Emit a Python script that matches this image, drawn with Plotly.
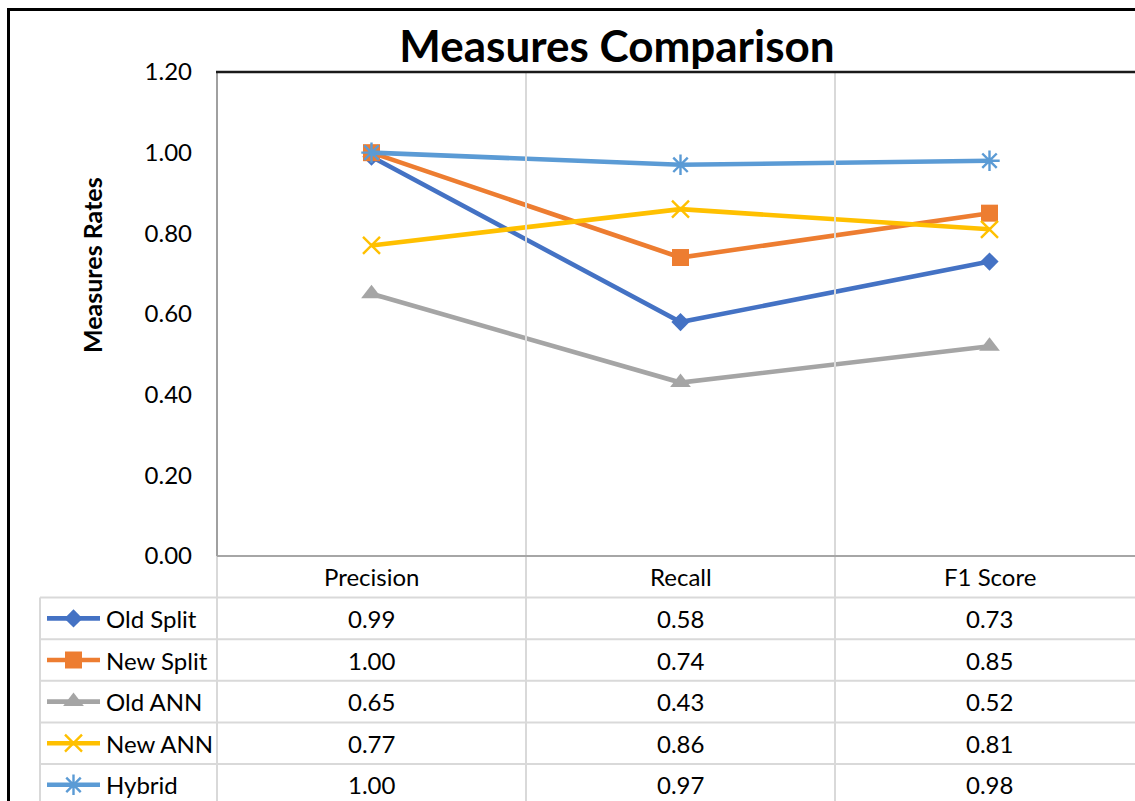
import plotly.graph_objects as go

W, H = 1135, 801

categories = ["Precision", "Recall", "F1 Score"]
series_names = ["Old Split", "New Split", "Old ANN", "New ANN", "Hybrid"]
old_split = [0.99, 0.58, 0.73]
new_split = [1.00, 0.74, 0.85]
old_ann = [0.65, 0.43, 0.52]
new_ann = [0.77, 0.86, 0.81]
hybrid = [1.00, 0.97, 0.98]
y_ticks = [0.0, 0.2, 0.4, 0.6, 0.8, 1.0, 1.2]

series_values = [old_split, new_split, old_ann, new_ann, hybrid]
colors = ["#4472C4", "#ED7D31", "#A5A5A5", "#FFC000", "#5B9BD5"]
markers = [
    dict(symbol="diamond", size=14),
    dict(symbol="square", size=17),
    dict(symbol="triangle-up", size=18),
    dict(symbol="x-thin", size=17),
    dict(symbol="asterisk", size=17),
]

FONT = "Lato"
FS = 24
LW = 4.6

def px(x):
    return x / W

def py(y):
    return 1 - y / H

# layout geometry (reference pixels)
PL, PT, PB = 217, 72, 556
CAT_W = 309
ROW_H = 41.6
TBL_L = 40

fig = go.Figure()

for i, (name, vals, col, mk) in enumerate(zip(series_names, series_values, colors, markers)):
    m = dict(mk, color=col)
    if mk["symbol"] in ("x-thin", "asterisk"):
        m["line"] = dict(color=col, width=2.4)
    fig.add_trace(go.Scatter(
        x=list(range(len(categories))), y=vals, mode="lines+markers",
        name=name, line=dict(color=col, width=LW), marker=m,
        showlegend=False, xaxis="x", yaxis="y", cliponaxis=False,
    ))
    # legend key inside the data table
    fig.add_trace(go.Scatter(
        x=[7, 33.5, 60], y=[i, i, i], mode="lines",
        line=dict(color=col, width=LW), showlegend=False,
        xaxis="x2", yaxis="y2", hoverinfo="skip",
    ))
    fig.add_trace(go.Scatter(
        x=[33.5], y=[i], mode="markers", marker=m, showlegend=False,
        xaxis="x2", yaxis="y2", hoverinfo="skip", cliponaxis=False,
    ))

x_range_right = -0.5 + (W - PL) / CAT_W
tbl_bottom_rows = -1.5 + (H - PB) / ROW_H

fig.update_layout(
    width=W, height=H,
    margin=dict(l=0, r=0, t=0, b=0, pad=0, autoexpand=False),
    paper_bgcolor="white", plot_bgcolor="white",
    font=dict(family=FONT, color="#000000"),
    title=dict(text="<b>Measures Comparison</b>", x=px(617), y=py(47),
               xanchor="center", yanchor="middle", xref="paper", yref="paper",
               automargin=False,
               font=dict(family=FONT, size=44, color="#000000")),
    xaxis=dict(domain=[px(PL), 1], range=[-0.5, x_range_right],
               showgrid=False, zeroline=False, showticklabels=False,
               ticks="", showline=False, fixedrange=True, automargin=False),
    yaxis=dict(domain=[py(PB), py(PT)], range=[0, 1.2], tickvals=y_ticks,
               tickformat=".2f", showgrid=False, zeroline=False, ticks="",
               showline=False, ticklabelstandoff=24, automargin=False,
               tickfont=dict(family=FONT, size=FS, color="#000000")),
    xaxis2=dict(domain=[px(TBL_L), px(PL)], range=[0, PL - TBL_L],
                visible=False, fixedrange=True, automargin=False),
    yaxis2=dict(domain=[0, py(PB)], range=[tbl_bottom_rows, -1.5],
                visible=False, fixedrange=True, automargin=False),
)

shapes = []
light = "#D9D9D9"
# category separators (through plot and table)
for b in [0.5, 1.5]:
    shapes.append(dict(type="line", xref="x", yref="paper", x0=b, x1=b,
                       y0=0, y1=py(PT), line=dict(color=light, width=2)))
# table vertical lines
shapes.append(dict(type="line", xref="paper", yref="paper", x0=px(PL), x1=px(PL),
                   y0=0, y1=py(PB), line=dict(color=light, width=2)))
shapes.append(dict(type="line", xref="paper", yref="paper", x0=px(TBL_L), x1=px(TBL_L),
                   y0=0, y1=py(PB + ROW_H), line=dict(color=light, width=2)))
# table horizontal lines
for r in range(5):
    yy = PB + ROW_H * (r + 1)
    shapes.append(dict(type="line", xref="paper", yref="paper", x0=px(TBL_L), x1=1,
                       y0=py(yy), y1=py(yy), line=dict(color=light, width=2)))
# plot area border
shapes.append(dict(type="line", xref="paper", yref="paper", x0=px(PL), x1=1,
                   y0=py(PB), y1=py(PB), line=dict(color="#A6A6A6", width=2)))
shapes.append(dict(type="line", xref="paper", yref="paper", x0=px(PL), x1=px(PL),
                   y0=py(PB), y1=py(PT), line=dict(color="#A0A0A0", width=2)))
shapes.append(dict(type="line", xref="paper", yref="paper", x0=px(PL - 1), x1=1,
                   y0=py(PT), y1=py(PT), line=dict(color="#1A1A1A", width=2.5)))
# outer chart border
shapes.append(dict(type="line", xref="paper", yref="paper", x0=px(7), x1=1,
                   y0=py(9.5), y1=py(9.5), line=dict(color="#000000", width=3)))
shapes.append(dict(type="line", xref="paper", yref="paper", x0=px(8.5), x1=px(8.5),
                   y0=0, y1=py(8), line=dict(color="#000000", width=3)))
fig.update_layout(shapes=shapes)

ann = []
# y axis title
ann.append(dict(text="<b>Measures Rates</b>", xref="paper", yref="paper",
                x=px(92), y=py(265), textangle=-90, showarrow=False,
                xanchor="center", yanchor="middle",
                font=dict(family=FONT, size=25, color="#000000")))
# category header row
for ci, c in enumerate(categories):
    ann.append(dict(text=c, xref="x", yref="y2", x=ci, y=-1, showarrow=False,
                    xanchor="center", yanchor="middle",
                    font=dict(family=FONT, size=FS, color="#000000")))
# table values and series names
for ri, (name, vals) in enumerate(zip(series_names, series_values)):
    ann.append(dict(text=name, xref="x2", yref="y2", x=64, y=ri, showarrow=False,
                    xanchor="left", yanchor="middle",
                    font=dict(family=FONT, size=FS, color="#000000")))
    for ci, v in enumerate(vals):
        ann.append(dict(text=f"{v:.2f}", xref="x", yref="y2", x=ci, y=ri,
                        showarrow=False, xanchor="center", yanchor="middle",
                        font=dict(family=FONT, size=FS, color="#000000")))
fig.update_layout(annotations=ann)

fig.write_html(
    "out.html",
    config={"displayModeBar": False},
    post_script="document.body.style.margin='0px';document.body.style.overflow='hidden';",
)
